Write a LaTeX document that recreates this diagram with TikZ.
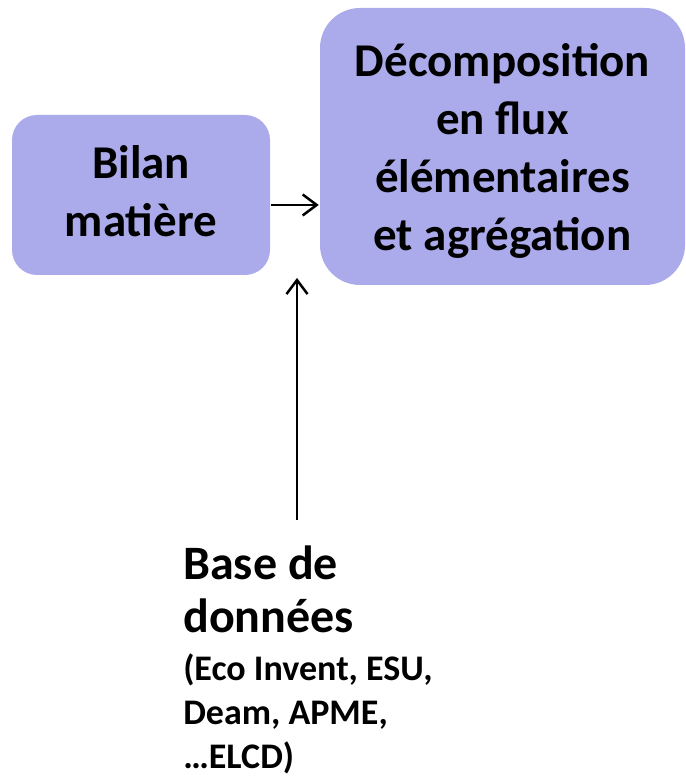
\documentclass[tikz,border=0pt]{standalone}
\usepackage{fontspec}
\setmainfont{Carlito}
\usetikzlibrary{arrows.meta, positioning}
\definecolor{boxfill}{RGB}{171,171,235}
\tikzset{
  stage/.style={fill=boxfill, align=center, font=\bfseries\fontsize{47}{58}\selectfont},
}

\begin{document}
\begin{tikzpicture}[x=1pt,y=1pt,>={Straight Barb[length=14pt,width=21pt]},line width=2.5pt]
\useasboundingbox (0,0) rectangle (685,778);
\node[stage, rounded corners=25pt, minimum width=258pt, minimum height=160pt] at (141,583) (bilan) {Bilan\\mati\`ere\rule[-8pt]{0pt}{8pt}};
\node[stage, rounded corners=40pt, minimum width=365pt, minimum height=277pt] at (502.5,631.5) (decomp) {\rule{0pt}{42pt}D\'ecomposition\\en flux\\\'el\'ementaires\\et agr\'egation};
\node[anchor=north west, align=left, inner sep=0pt, font=\bfseries\fontsize{48}{53}\selectfont] at (182,233) (base) {Base de\\donn\'ees};
\node[anchor=north west, align=left, inner sep=0pt, font=\bfseries\fontsize{36}{44}\selectfont] at (182,125) (sources) {(Eco Invent, ESU,\\Deam, APME,\\…ELCD)};
\coordinate (vtip) at (297,500);
\coordinate (vbase) at (297,258);
\draw[->](bilan.east |- 0,573) to (decomp.west |- 0,573);
\draw[->](vbase) to (vtip);
\end{tikzpicture}
\end{document}
